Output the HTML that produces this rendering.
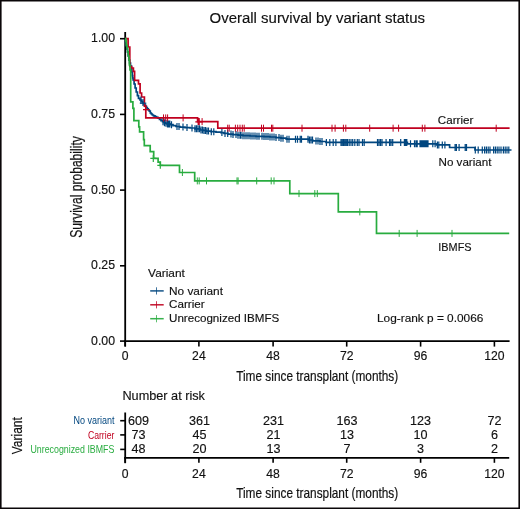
<!DOCTYPE html>
<html><head><meta charset="utf-8"><style>
html,body{margin:0;padding:0;background:#fff;}
.wrap{position:relative;width:520px;height:509px;overflow:hidden;background:#fff;}
svg{position:absolute;left:0;top:0;will-change:transform;}
text{font-family:"Liberation Sans",sans-serif;}
.cd{stroke:#111;stroke-width:0.2px;}
.bk{stroke:#111;stroke-width:0.15px;}
</style></head><body><div class="wrap">
<svg width="520" height="509" viewBox="0 0 520 509">
<text x="209.5" y="22.5" font-size="15.4" text-anchor="start" fill="#111" textLength="215.5" lengthAdjust="spacingAndGlyphs"  class="bk">Overall survival by variant status</text>
<line x1="125.2" y1="32" x2="125.2" y2="346.6" stroke="#000" stroke-width="1.8"/>
<line x1="124.2" y1="341.1" x2="509.6" y2="341.1" stroke="#000" stroke-width="1.8"/>
<line x1="120" y1="38.7" x2="125.2" y2="38.7" stroke="#000" stroke-width="1.6"/>
<text x="115.0" y="42.300000000000004" font-size="12.3" text-anchor="end" fill="#111"  class="bk">1.00</text>
<line x1="120" y1="114.4" x2="125.2" y2="114.4" stroke="#000" stroke-width="1.6"/>
<text x="115.0" y="118.0" font-size="12.3" text-anchor="end" fill="#111"  class="bk">0.75</text>
<line x1="120" y1="190.1" x2="125.2" y2="190.1" stroke="#000" stroke-width="1.6"/>
<text x="115.0" y="193.7" font-size="12.3" text-anchor="end" fill="#111"  class="bk">0.50</text>
<line x1="120" y1="265.8" x2="125.2" y2="265.8" stroke="#000" stroke-width="1.6"/>
<text x="115.0" y="269.40000000000003" font-size="12.3" text-anchor="end" fill="#111"  class="bk">0.25</text>
<line x1="120" y1="341.1" x2="125.2" y2="341.1" stroke="#000" stroke-width="1.6"/>
<text x="115.0" y="344.70000000000005" font-size="12.3" text-anchor="end" fill="#111"  class="bk">0.00</text>
<line x1="125.2" y1="341" x2="125.2" y2="346.6" stroke="#000" stroke-width="1.6"/>
<text x="125.2" y="359.9" font-size="12.2" text-anchor="middle" fill="#111"  class="bk">0</text>
<line x1="198.9" y1="341" x2="198.9" y2="346.6" stroke="#000" stroke-width="1.6"/>
<text x="198.9" y="359.9" font-size="12.2" text-anchor="middle" fill="#111"  class="bk">24</text>
<line x1="273.1" y1="341" x2="273.1" y2="346.6" stroke="#000" stroke-width="1.6"/>
<text x="273.1" y="359.9" font-size="12.2" text-anchor="middle" fill="#111"  class="bk">48</text>
<line x1="346.7" y1="341" x2="346.7" y2="346.6" stroke="#000" stroke-width="1.6"/>
<text x="346.7" y="359.9" font-size="12.2" text-anchor="middle" fill="#111"  class="bk">72</text>
<line x1="420.6" y1="341" x2="420.6" y2="346.6" stroke="#000" stroke-width="1.6"/>
<text x="420.6" y="359.9" font-size="12.2" text-anchor="middle" fill="#111"  class="bk">96</text>
<line x1="494.4" y1="341" x2="494.4" y2="346.6" stroke="#000" stroke-width="1.6"/>
<text x="494.4" y="359.9" font-size="12.2" text-anchor="middle" fill="#111"  class="bk">120</text>
<text x="236.2" y="381.2" font-size="15.0" text-anchor="start" fill="#111" textLength="162" lengthAdjust="spacingAndGlyphs" class="cd">Time since transplant (months)</text>
<text class="cd" transform="translate(82.3,237.7) rotate(-90)" x="0" y="0" font-size="16.2" fill="#111" textLength="101.5" lengthAdjust="spacingAndGlyphs">Survival probability</text>
<text x="437.8" y="124.0" font-size="11.5" text-anchor="start" fill="#111" textLength="35.5" lengthAdjust="spacingAndGlyphs"  class="bk">Carrier</text>
<text x="438.5" y="165.9" font-size="11.4" text-anchor="start" fill="#111" textLength="53" lengthAdjust="spacingAndGlyphs"  class="bk">No variant</text>
<text x="438.3" y="251.4" font-size="11.4" text-anchor="start" fill="#111" textLength="33.3" lengthAdjust="spacingAndGlyphs"  class="bk">IBMFS</text>
<text x="148.1" y="276.6" font-size="11.4" text-anchor="start" fill="#111" textLength="36.8" lengthAdjust="spacingAndGlyphs"  class="bk">Variant</text>
<line x1="150.2" y1="290.9" x2="163.7" y2="290.9" stroke="#00467f" stroke-width="1.5" opacity="0.92"/>
<line x1="156.5" y1="287.29999999999995" x2="156.5" y2="294.5" stroke="#00467f" stroke-width="1.0" opacity="0.75"/>
<text x="169.0" y="294.8" font-size="11.2" text-anchor="start" fill="#111" textLength="54" lengthAdjust="spacingAndGlyphs"  class="bk">No variant</text>
<line x1="150.2" y1="304.8" x2="163.7" y2="304.8" stroke="#c0001f" stroke-width="1.5" opacity="0.92"/>
<line x1="156.5" y1="301.2" x2="156.5" y2="308.40000000000003" stroke="#c0001f" stroke-width="1.0" opacity="0.75"/>
<text x="169.0" y="308.2" font-size="11.2" text-anchor="start" fill="#111" textLength="35.6" lengthAdjust="spacingAndGlyphs"  class="bk">Carrier</text>
<line x1="150.2" y1="318.7" x2="163.7" y2="318.7" stroke="#28ac3f" stroke-width="1.5" opacity="0.92"/>
<line x1="156.5" y1="315.09999999999997" x2="156.5" y2="322.3" stroke="#28ac3f" stroke-width="1.0" opacity="0.75"/>
<text x="169.0" y="321.8" font-size="11.2" text-anchor="start" fill="#111" textLength="110.3" lengthAdjust="spacingAndGlyphs"  class="bk">Unrecognized IBMFS</text>
<text x="377.0" y="322.1" font-size="11.2" text-anchor="start" fill="#111" textLength="106.3" lengthAdjust="spacingAndGlyphs"  class="bk">Log-rank p = 0.0066</text>
<path d="M125,38.7 H125.6 V42 H126.2 V46 H126.8 V49 H127.5 V52 H128.2 V56 H128.8 V60 H129.6 V63 H130.5 V66 H131.5 V69 H131.9 V72 H132.3 V75.7 H132.7 V78 H133.1 V80 H134.1 V84 H135.1 V88 H136.2 V92 H137.4 V95.7 H138.5 V98.3 H140.0 V100.0 H141.3 V101.3 H142.6 V102.6 H143.6 V103.8 H144.6 V105.1 H145.5 V106.3 H146.4 V107.6 H147.3 V108.8 H148.3 V110 H149.3 V111.1 H150.3 V113.0 H151.3 V114.0 H152.3 V115.0 H153.5 V115.8 H155 V116.7 H156.5 V117.4 H158 V118.1 H159.5 V119.4 H161 V120.7 H162.5 V121.7 H164 V122.7 H165.5 V123.3 H167 V123.9 H170 V124.7 H173 V125.6 H176 V126.5 H180 V127.1 H185 V127.6 H190 V128.0 H195 V128.8 H200 V130.0 H203 V130.4 H206 V131.1 H211 V131.7 H216 V132.2 H221 V132.6 H224 V133.4 H228 V134.1 H233 V134.6 H238 V135.2 H243 V135.7 H250 V136 H256 V136.3 H264 V136.6 H270 V137 H276 V137.6 H281 V138.2 H286 V138.8 H287 V139.2 H308.6 V140.0 H312.7 V140.9 H320 V141.5 H326 V142.4 H407.4 V143.8 H436.5 V144.9 H449.6 V147.5 H475.0 V150.0 H511.5 V150.0" fill="none" stroke="#00467f" stroke-width="1.7"/>
<path d="M125,38.7 H128.1 V47 H129.8 V66.5 H131.6 V68 H133.4 V71.3 H134.6 V80.3 H138.5 V83.9 H140.1 V93 H141.6 V97 H144.4 V106.2 H145.8 V117.9 H197.6 V121.6 H217.8 V128.2 H509.6" fill="none" stroke="#c0001f" stroke-width="1.7"/>
<path d="M125,38.7 H125.8 V41 H126.3 V45 H127 V48 H127.6 V52 H128.3 V56 H128.9 V60 H129.4 V65 H130 V70 H130.7 V74 H130.7 V101.9 H132.9 V108.4 H133.9 V120.6 H138.8 V126.8 H139.6 V131.8 H143.6 V139.7 H144.3 V145.6 H150.2 V151.7 H153.7 V158.4 H158.1 V162.1 H160.3 V165.3 H179.5 V172.5 H194.7 V180.9 H289.8 V193.6 H338.3 V211.9 H376.5 V233.4 H509.2 V233.4" fill="none" stroke="#28ac3f" stroke-width="1.7"/>
<path d="M141,96.5V103.5M143,99.1V106.1M163,118.2V125.2M164.5,119.2V126.2M166,119.8V126.8M167.5,120.4V127.4M168.7,120.4V127.4M169.8,120.4V127.4M171.5,121.2V128.2M177,123.0V130.0M179,123.0V130.0M183,123.6V130.6M187,124.1V131.1M192,124.5V131.5M195,125.30000000000001V132.3M196.5,125.30000000000001V132.3M198,125.30000000000001V132.3M199.5,125.30000000000001V132.3M201,126.5V133.5M202.5,126.5V133.5M204,126.9V133.9M205.5,126.9V133.9M207,127.6V134.6M208.5,127.6V134.6M211.3,128.2V135.2M213.8,128.2V135.2M221.9,129.1V136.1M225,129.9V136.9M227.7,129.9V136.9M231,130.6V137.6M233,131.1V138.1M236,131.1V138.1M238,131.7V138.7M240,131.7V138.7M241,131.7V138.7M243,132.2V139.2M245,132.2V139.2M247,132.2V139.2M249,132.2V139.2M251,132.5V139.5M253,132.5V139.5M255,132.5V139.5M257,132.8V139.8M259,132.8V139.8M262,132.8V139.8M264,133.1V140.1M266,133.1V140.1M268,133.1V140.1M270,133.5V140.5M272,133.5V140.5M274,133.5V140.5M276,134.1V141.1M279,134.1V141.1M281,134.7V141.7M283,134.7V141.7M287,135.7V142.7M289,135.7V142.7M295.5,135.7V142.7M297.5,135.7V142.7M300.2,135.7V142.7M301.5,135.7V142.7M308,135.7V142.7M309.5,136.5V143.5M311,136.5V143.5M312.5,136.5V143.5M316,137.4V144.4M318,137.4V144.4M320,138.0V145.0M322,138.0V145.0M326.4,138.9V145.9M329.8,138.9V145.9M333.2,138.9V145.9M335.9,138.9V145.9M341,138.9V145.9M342.3,138.9V145.9M343.6,138.9V145.9M344.9,138.9V145.9M346.2,138.9V145.9M347.5,138.9V145.9M349.2,138.9V145.9M351,138.9V145.9M352.7,138.9V145.9M354.8,138.9V145.9M357.3,138.9V145.9M359,138.9V145.9M362.5,138.9V145.9M364.2,138.9V145.9M377.5,138.9V145.9M379,138.9V145.9M380.5,138.9V145.9M382,138.9V145.9M386.1,138.9V145.9M389.6,138.9V145.9M391,138.9V145.9M392.7,138.9V145.9M400.7,138.9V145.9M404.4,138.9V145.9M405.2,138.9V145.9M406,138.9V145.9M406.8,138.9V145.9M410.5,140.3V147.3M414.5,140.3V147.3M416,140.3V147.3M417.2,140.3V147.3M420,140.3V147.3M421,140.3V147.3M422,140.3V147.3M423,140.3V147.3M424,140.3V147.3M425,140.3V147.3M426,140.3V147.3M427,140.3V147.3M428,140.3V147.3M432.8,140.3V147.3M435.1,140.3V147.3M437.4,141.4V148.4M438.8,141.4V148.4M442.3,141.4V148.4M444.9,141.4V148.4M455.1,144.0V151.0M456.4,144.0V151.0M459.1,144.0V151.0M465.2,144.0V151.0M466.5,144.0V151.0M475.3,146.5V153.5M478.2,146.5V153.5M482.3,146.5V153.5M484.6,146.5V153.5M486.4,146.5V153.5M488.2,146.5V153.5M490,146.5V153.5M493.6,146.5V153.5M495.4,146.5V153.5M497.2,146.5V153.5M499,146.5V153.5M501,146.5V153.5M503.4,146.5V153.5M505.2,146.5V153.5M507,146.5V153.5M508.8,146.5V153.5" stroke="#00467f" stroke-width="1.2" fill="none" opacity="1"/>
<path d="M139.8,103.2H146.3" stroke="#00467f" stroke-width="1.2"/>
<path d="M163.5,114.4V121.4M165.7,114.4V121.4M167.6,114.4V121.4M183.1,114.4V121.4M199.2,118.1V125.1M202.1,118.1V125.1M227.7,124.69999999999999V131.7M229.2,124.69999999999999V131.7M235.4,124.69999999999999V131.7M237.7,124.69999999999999V131.7M240,124.69999999999999V131.7M242.3,124.69999999999999V131.7M244.2,124.69999999999999V131.7M261.5,124.69999999999999V131.7M263.5,124.69999999999999V131.7M271.5,124.69999999999999V131.7M272.8,124.69999999999999V131.7M302,124.69999999999999V131.7M332,124.69999999999999V131.7M335.1,124.69999999999999V131.7M343.4,124.69999999999999V131.7M345.8,124.69999999999999V131.7M369.7,124.69999999999999V131.7M393.1,124.69999999999999V131.7M398.6,124.69999999999999V131.7M422.3,124.69999999999999V131.7M424.9,124.69999999999999V131.7M496.2,124.69999999999999V131.7" stroke="#c0001f" stroke-width="1.0" fill="none" opacity="1"/>
<path d="M143,109.6H149.5M195.3,121.8H202.5M198.2,118.1V125.1M198.8,118.1V125.1" stroke="#c0001f" stroke-width="1.2" opacity="1"/>
<path d="M182.4,169.0V176.0M197.3,177.4V184.4M199.2,177.4V184.4M206.5,177.4V184.4M237,177.4V184.4M238.1,177.4V184.4M256.7,177.4V184.4M271.2,177.4V184.4M274,177.4V184.4M299,190.1V197.1M314.8,190.1V197.1M317.3,190.1V197.1M359.8,208.4V215.4M399.2,229.9V236.9M417.1,229.9V236.9M452,229.9V236.9" stroke="#28ac3f" stroke-width="1.0" fill="none" opacity="1"/>
<path d="M150.3,158.4H156.3M153.3,154.9V161.9M157.3,165.3H163.3M160.3,161.8V168.8" stroke="#28ac3f" stroke-width="1.2" opacity="1"/>
<text x="122.4" y="399.6" font-size="12.2" text-anchor="start" fill="#111" textLength="82.6" lengthAdjust="spacingAndGlyphs"  class="bk">Number at risk</text>
<line x1="125.2" y1="412.5" x2="125.2" y2="463.2" stroke="#000" stroke-width="1.8"/>
<line x1="124.2" y1="457.8" x2="509.2" y2="457.8" stroke="#000" stroke-width="1.8"/>
<line x1="120.2" y1="420.7" x2="125.2" y2="420.7" stroke="#000" stroke-width="1.6"/>
<line x1="120.2" y1="434.9" x2="125.2" y2="434.9" stroke="#000" stroke-width="1.6"/>
<line x1="120.2" y1="449.4" x2="125.2" y2="449.4" stroke="#000" stroke-width="1.6"/>
<line x1="125.2" y1="457" x2="125.2" y2="462.8" stroke="#000" stroke-width="1.6"/>
<text x="125.2" y="477.5" font-size="12.2" text-anchor="middle" fill="#111"  class="bk">0</text>
<line x1="198.9" y1="457" x2="198.9" y2="462.8" stroke="#000" stroke-width="1.6"/>
<text x="198.9" y="477.5" font-size="12.2" text-anchor="middle" fill="#111"  class="bk">24</text>
<line x1="273.1" y1="457" x2="273.1" y2="462.8" stroke="#000" stroke-width="1.6"/>
<text x="273.1" y="477.5" font-size="12.2" text-anchor="middle" fill="#111"  class="bk">48</text>
<line x1="346.7" y1="457" x2="346.7" y2="462.8" stroke="#000" stroke-width="1.6"/>
<text x="346.7" y="477.5" font-size="12.2" text-anchor="middle" fill="#111"  class="bk">72</text>
<line x1="420.6" y1="457" x2="420.6" y2="462.8" stroke="#000" stroke-width="1.6"/>
<text x="420.6" y="477.5" font-size="12.2" text-anchor="middle" fill="#111"  class="bk">96</text>
<line x1="494.4" y1="457" x2="494.4" y2="462.8" stroke="#000" stroke-width="1.6"/>
<text x="494.4" y="477.5" font-size="12.2" text-anchor="middle" fill="#111"  class="bk">120</text>
<text x="138.4" y="424.95" font-size="12.6" text-anchor="middle" fill="#111"  class="bk">609</text>
<text x="199.5" y="424.95" font-size="12.6" text-anchor="middle" fill="#111"  class="bk">361</text>
<text x="273.4" y="424.95" font-size="12.6" text-anchor="middle" fill="#111"  class="bk">231</text>
<text x="346.9" y="424.95" font-size="12.6" text-anchor="middle" fill="#111"  class="bk">163</text>
<text x="420.5" y="424.95" font-size="12.6" text-anchor="middle" fill="#111"  class="bk">123</text>
<text x="494.4" y="424.95" font-size="12.6" text-anchor="middle" fill="#111"  class="bk">72</text>
<text x="138.4" y="439.35" font-size="12.6" text-anchor="middle" fill="#111"  class="bk">73</text>
<text x="199.5" y="439.35" font-size="12.6" text-anchor="middle" fill="#111"  class="bk">45</text>
<text x="273.4" y="439.35" font-size="12.6" text-anchor="middle" fill="#111"  class="bk">21</text>
<text x="346.9" y="439.35" font-size="12.6" text-anchor="middle" fill="#111"  class="bk">13</text>
<text x="420.5" y="439.35" font-size="12.6" text-anchor="middle" fill="#111"  class="bk">10</text>
<text x="494.4" y="439.35" font-size="12.6" text-anchor="middle" fill="#111"  class="bk">6</text>
<text x="138.4" y="453.25" font-size="12.6" text-anchor="middle" fill="#111"  class="bk">48</text>
<text x="199.5" y="453.25" font-size="12.6" text-anchor="middle" fill="#111"  class="bk">20</text>
<text x="273.4" y="453.25" font-size="12.6" text-anchor="middle" fill="#111"  class="bk">13</text>
<text x="346.9" y="453.25" font-size="12.6" text-anchor="middle" fill="#111"  class="bk">7</text>
<text x="420.5" y="453.25" font-size="12.6" text-anchor="middle" fill="#111"  class="bk">3</text>
<text x="494.4" y="453.25" font-size="12.6" text-anchor="middle" fill="#111"  class="bk">2</text>
<text x="114.4" y="424.4" font-size="11.4" text-anchor="end" fill="#00467f" textLength="41" lengthAdjust="spacingAndGlyphs" >No variant</text>
<text x="114.4" y="438.8" font-size="11.4" text-anchor="end" fill="#c0001f" textLength="26.5" lengthAdjust="spacingAndGlyphs" >Carrier</text>
<text x="114.4" y="452.7" font-size="11.4" text-anchor="end" fill="#28ac3f" textLength="84" lengthAdjust="spacingAndGlyphs" >Unrecognized IBMFS</text>
<text class="cd" transform="translate(22.2,454.3) rotate(-90)" x="0" y="0" font-size="15.4" fill="#111" textLength="37.2" lengthAdjust="spacingAndGlyphs">Variant</text>
<text x="236.2" y="497.8" font-size="15.0" text-anchor="start" fill="#111" textLength="162" lengthAdjust="spacingAndGlyphs" class="cd">Time since transplant (months)</text>
<path d="M0,0H520V1.6H0Z M0,0H1.6V509H0Z M518.4,0H520V509H518.4Z M0,507.4H520V509H0Z" fill="#0a0608"/>
</svg></div></body></html>
